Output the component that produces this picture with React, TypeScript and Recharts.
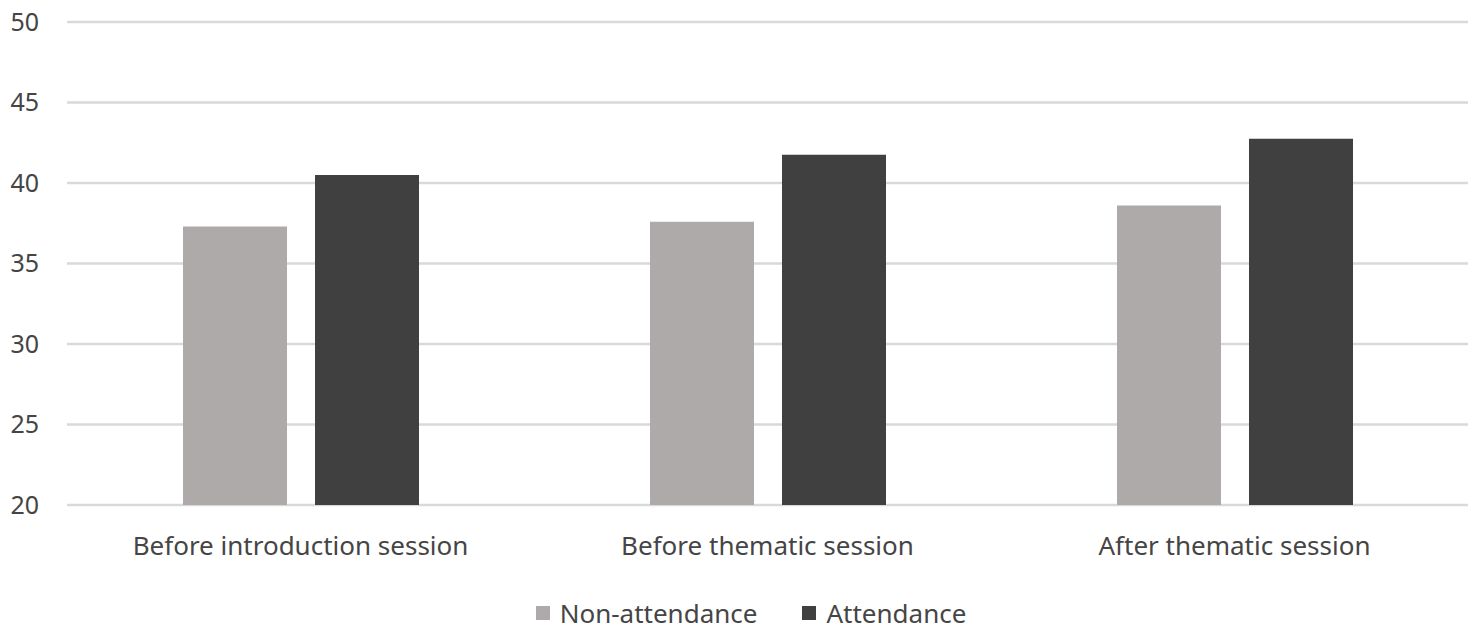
import React from "react";
import { BarChart, Bar, XAxis, YAxis, CartesianGrid, Legend } from "recharts";

const categories = ["Before introduction session", "Before thematic session", "After thematic session"];
const nonAttendance = [37.3, 37.6, 38.6];
const attendance = [40.5, 41.75, 42.75];
const yTicks = [20, 25, 30, 35, 40, 45, 50];
const seriesOrder = ["Non-attendance", "Attendance"];

const data = categories.map((c, i) => ({
  name: c,
  "Non-attendance": nonAttendance[i],
  Attendance: attendance[i],
}));

const FONT = "'Noto Sans', sans-serif";
const TEXT = "#454545";

const renderLegend = (props: any) => {
  const payload = [...(props.payload || [])].sort(
    (a: any, b: any) => seriesOrder.indexOf(a.value) - seriesOrder.indexOf(b.value)
  );
  return (
    <div style={{ display: "flex", justifyContent: "center", alignItems: "center", fontFamily: FONT, fontSize: 26, color: TEXT }}>
      {payload.map((p: any, i: number) => (
        <div key={i} style={{ display: "flex", alignItems: "center", marginLeft: i === 0 ? 0 : 45 }}>
          <span style={{ display: "inline-block", width: 14, height: 14, background: p.color, marginRight: 10 }} />
          <span>{p.value}</span>
        </div>
      ))}
    </div>
  );
};

export default function App() {
  return (
    <div style={{ width: 1478, height: 637, background: "#fff", marginLeft: -8, marginTop: -8 }}>
      <BarChart
        width={1478}
        height={637}
        data={data}
        margin={{ top: 22, right: 10, left: 0, bottom: 72 }}
        barSize={104}
        barGap={28}
      >
        <CartesianGrid horizontal vertical={false} stroke="#d9d9d9" strokeWidth={2.5} />
        <XAxis
          dataKey="name"
          axisLine={false}
          tickLine={false}
          tickSize={0}
          tickMargin={32}
          height={60}
          tick={{ fontFamily: FONT, fontSize: 26, fill: TEXT }}
        />
        <YAxis
          domain={[20, 50]}
          ticks={yTicks}
          interval={0}
          axisLine={false}
          tickLine={false}
          tickSize={0}
          tickMargin={28}
          width={67}
          tick={{ fontFamily: FONT, fontSize: 25, fill: TEXT }}
        />
        <Legend
          layout="horizontal"
          verticalAlign="middle"
          align="center"
          content={renderLegend}
          wrapperStyle={{ top: 595, left: 16, width: 1470 }}
        />
        <Bar dataKey="Non-attendance" fill="#aeaaaa" isAnimationActive={false} />
        <Bar dataKey="Attendance" fill="#404040" isAnimationActive={false} />
      </BarChart>
    </div>
  );
}
